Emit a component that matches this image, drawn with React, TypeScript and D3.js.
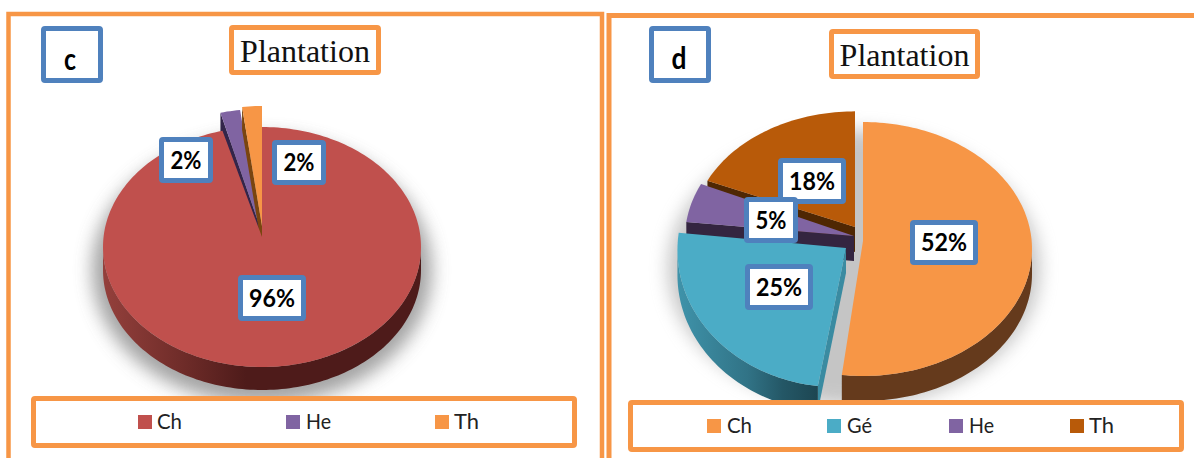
import React from "react";
import * as d3 from "d3";

const categoriesC = ["Ch", "He", "Th"];
const valuesC = [96, 2, 2];
const colorsC = ["#c0504d", "#8064a2", "#f79646"];
const sidesC = ["#4e1b1a", "#33254a", "#7a4510"];

const categoriesD = ["Ch", "Gé", "He", "Th"];
const valuesD = [52, 25, 5, 18];
const colorsD = ["#f79646", "#4bacc6", "#8064a2", "#b85a09"];
const sidesD = ["#653a1c", "#3a8ba1", "#342540", "#4f2703"];

const ORANGE = "#f79646";
const BLUE = "#4f81bd";
const SANS = "Lato, Carlito, sans-serif";

type Box = { x0: number; x1: number; y0: number; y1: number; text: string };
type Layer = {
  i: number; dx: number; dy: number; apexDx?: number; apexDy: number;
  sx?: number; sy?: number; wall?: boolean; sideFill?: string;
};
type Pie = {
  cx: number; cy: number; rx: number; ry: number; depth: number;
  values: number[]; colors: string[]; sides: string[]; layers: Layer[];
  gradId: string; gradStops: [string, string][];
  shadow: { cx: number; cy: number; rx: number; ry: number; sd: number; op: number };
};

const lineGen = d3.line<[number, number]>();

function pieSlices(values: number[]) {
  return d3.pie<number>().sort(null).value((d) => d)(values);
}

function PieChart({ p }: { p: Pie }) {
  const slices = pieSlices(p.values);
  const pt = (a: number, l: Layer, drop = 0): [number, number] => {
    const sx = d3.scaleLinear().domain([-1, 1]).range([-p.rx * (l.sx ?? 1), p.rx * (l.sx ?? 1)]);
    const sy = d3.scaleLinear().domain([-1, 1]).range([p.ry * (l.sy ?? 1), -p.ry * (l.sy ?? 1)]);
    return [p.cx + sx(Math.sin(a)) + l.dx, p.cy + sy(Math.cos(a)) + l.dy + drop];
  };
  const sample = (a0: number, a1: number, l: Layer, drop = 0) => {
    const n = Math.max(2, Math.ceil(Math.abs(a1 - a0) * 40));
    return d3.range(n + 1).map((k) => pt(a0 + ((a1 - a0) * k) / n, l, drop));
  };
  return (
    <g>
      <defs>
        <filter id={p.gradId + "-blur"} x="-30%" y="-30%" width="160%" height="160%">
          <feGaussianBlur stdDeviation={p.shadow.sd} />
        </filter>
        <linearGradient id={p.gradId} x1="0" x2="1" y1="0" y2="0">
          {p.gradStops.map(([o, c]) => (
            <stop key={o} offset={o} stopColor={c} />
          ))}
        </linearGradient>
      </defs>
      <ellipse
        cx={p.shadow.cx} cy={p.shadow.cy} rx={p.shadow.rx} ry={p.shadow.ry}
        fill="#8c8c8c" opacity={p.shadow.op} filter={`url(#${p.gradId}-blur)`}
      />
      {p.layers.map((l) => {
        const s = slices[l.i];
        const a0 = s.startAngle;
        const a1 = s.endAngle;
        const apex: [number, number] = [p.cx + l.dx + (l.apexDx ?? 0), p.cy + l.dy + l.apexDy];
        const apexLow: [number, number] = [apex[0], apex[1] + p.depth];
        const fa0 = Math.max(a0, Math.PI / 2);
        const fa1 = Math.min(a1, (3 * Math.PI) / 2);
        const outer =
          fa1 > fa0
            ? [...sample(fa0, fa1, l), ...sample(fa1, fa0, l, p.depth)]
            : null;
        const top = [apex, ...sample(a0, a1, l)];
        const start = pt(a0, l);
        const startLow = pt(a0, l, p.depth);
        return (
          <g key={l.i}>
            {l.wall && (
              <path
                d={lineGen([apex, start, startLow, apexLow]) + "Z"}
                fill={p.sides[l.i]}
              />
            )}
            {outer && (
              <path d={lineGen(outer) + "Z"} fill={l.sideFill ?? p.sides[l.i]} />
            )}
            <path d={lineGen(top as [number, number][]) + "Z"} fill={p.colors[l.i]} />
          </g>
        );
      })}
    </g>
  );
}

function FrameBox({ x0, x1, y0, y1, color, sw = 5 }: { x0: number; x1: number; y0: number; y1: number; color: string; sw?: number }) {
  return (
    <rect
      x={x0 + sw / 2} y={y0 + sw / 2}
      width={x1 - x0 - sw} height={y1 - y0 - sw}
      rx={1.5} fill="#fff" stroke={color} strokeWidth={sw}
    />
  );
}

function Labels({ boxes }: { boxes: Box[] }) {
  return (
    <g>
      {boxes.map((b) => (
        <g key={b.text + b.x0}>
          <FrameBox x0={b.x0} x1={b.x1} y0={b.y0} y1={b.y1} color={BLUE} />
          <text
            x={(b.x0 + b.x1) / 2} y={(b.y0 + b.y1) / 2 + 8.5}
            textAnchor="middle" fontFamily={SANS} fontWeight={700} fontSize={24.5} fill="#000"
            textLength={b.text.length === 2 ? 31 : 46} lengthAdjust="spacingAndGlyphs"
          >
            {b.text}
          </text>
        </g>
      ))}
    </g>
  );
}

function Legend({ names, colors, swatchX, textX, y }: { names: string[]; colors: string[]; swatchX: number[]; textX: number[]; y: number }) {
  return (
    <g>
      {names.map((n, i) => (
        <g key={n}>
          <rect x={swatchX[i]} y={y} width={14} height={14} fill={colors[i]} />
          <text
            x={textX[i]} y={y + 14} fontFamily={SANS} fontSize={21} fill="#222"
            textLength={25} lengthAdjust="spacingAndGlyphs"
          >
            {n}
          </text>
        </g>
      ))}
    </g>
  );
}

const pieC: Pie = {
  cx: 262, cy: 247, rx: 159, ry: 120, depth: 23,
  values: valuesC, colors: colorsC, sides: sidesC,
  layers: [
    { i: 1, dx: -2, dy: -18, apexDy: -2, wall: true },
    { i: 2, dx: 0, dy: -21, apexDy: 0, wall: true },
    { i: 0, dx: 0, dy: 0, apexDy: -10, sideFill: "url(#gc)" },
  ],
  gradId: "gc",
  gradStops: [["0", "#94403c"], ["0.25", "#6f2c29"], ["0.45", "#4e1b1a"], ["1", "#4e1b1a"]],
  shadow: { cx: 262, cy: 270, rx: 170, ry: 134, sd: 9, op: 0.8 },
};

const pieD: Pie = {
  cx: 863, cy: 249, rx: 169, ry: 127, depth: 25,
  values: valuesD, colors: colorsD, sides: sidesD,
  layers: [
    { i: 3, dx: -8, dy: -17, apexDy: -5, sx: 0.965, sy: 0.95, wall: true },
    { i: 2, dx: -9, dy: -11, apexDy: -2, wall: true },
    { i: 1, dx: -25, dy: 1, apexDx: 8, apexDy: -2, sx: 0.95, sy: 1.08, wall: true, sideFill: "url(#gd)" },
    { i: 0, dx: 0, dy: 0, apexDy: -8 },
  ],
  gradId: "gd",
  gradStops: [["0", "#3f93aa"], ["0.5", "#317386"], ["0.75", "#245766"], ["1", "#1d4652"]],
  shadow: { cx: 854, cy: 268, rx: 186, ry: 138, sd: 9, op: 0.5 },
};

const labelBoxesC: Box[] = [
  { x0: 159, x1: 213, y0: 137, y1: 183, text: "2%" },
  { x0: 272, x1: 326, y0: 140, y1: 185, text: "2%" },
  { x0: 238, x1: 306, y0: 275, y1: 321, text: "96%" },
];
const labelBoxesD: Box[] = [
  { x0: 778, x1: 846, y0: 158, y1: 204, text: "18%" },
  { x0: 744, x1: 798, y0: 197, y1: 243, text: "5%" },
  { x0: 745, x1: 813, y0: 264, y1: 310, text: "25%" },
  { x0: 910, x1: 978, y0: 220, y1: 265, text: "52%" },
];

export default function App() {
  return (
    <svg
      width={1194} height={458} viewBox="0 0 1194 458"
      style={{ position: "absolute", left: 0, top: 0, display: "block", background: "#fff" }}
    >
      {/* panel frames */}
      <rect x={8.5} y={14} width={593.5} height={470} fill="#fff" stroke={ORANGE} strokeWidth={4.5} />
      <rect x={609} y={15.5} width={620} height={470} fill="#fff" stroke={ORANGE} strokeWidth={5} />

      {/* panel c */}
      <PieChart p={pieC} />
      <FrameBox x0={41} x1={103} y0={26} y1={83} color={BLUE} />
      <text x={70} y={70} textAnchor="middle" fontFamily={SANS} fontWeight={700} fontSize={30} fill="#000" textLength={12} lengthAdjust="spacingAndGlyphs">c</text>
      <FrameBox x0={229} x1={381} y0={25} y1={75} color={ORANGE} />
      <text x={305} y={62} textAnchor="middle" fontFamily="'Liberation Serif', serif" fontSize={32} fill="#111">Plantation</text>
      <Labels boxes={labelBoxesC} />
      <FrameBox x0={31} x1={577} y0={396} y1={448} color={ORANGE} />
      <Legend names={categoriesC} colors={colorsC} swatchX={[138, 286, 435]} textX={[157, 306, 454]} y={415} />

      {/* panel d */}
      <PieChart p={pieD} />
      <FrameBox x0={649} x1={711} y0={26} y1={83} color={BLUE} />
      <text x={679} y={69} textAnchor="middle" fontFamily={SANS} fontWeight={700} fontSize={30} fill="#000" textLength={15} lengthAdjust="spacingAndGlyphs">d</text>
      <FrameBox x0={829} x1={980} y0={29} y1={79} color={ORANGE} />
      <text x={904.5} y={66} textAnchor="middle" fontFamily="'Liberation Serif', serif" fontSize={32} fill="#111">Plantation</text>
      <Labels boxes={labelBoxesD} />
      <FrameBox x0={628} x1={1184} y0={400} y1={452} color={ORANGE} />
      <Legend names={categoriesD} colors={colorsD} swatchX={[707, 827, 949, 1070]} textX={[727, 847, 969, 1089]} y={419} />
    </svg>
  );
}
